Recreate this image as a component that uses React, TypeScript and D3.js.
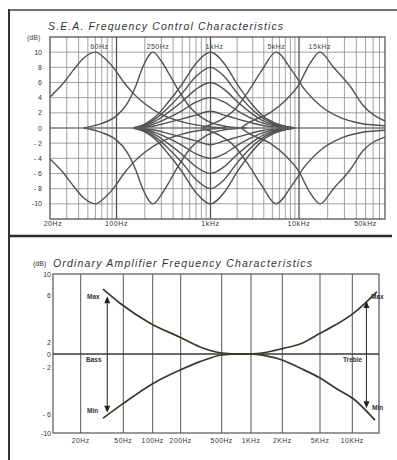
import React from "react";
import * as d3 from "d3";

type Pt = [number, number];

// ---------- TOP CHART DATA (Hz, dB) ----------
const topDbTicks = [10, 8, 6, 4, 2, 0, -2, -4, -6, -8, -10];
const topFreqTicks = [20, 100, 1000, 10000, 50000];
const topFreqLabels = ["20Hz", "100Hz", "1kHz", "10kHz", "50kHz"];
const peakFreqs = [60, 250, 1000, 5000, 15000];
const peakLabels = ["60Hz", "250Hz", "1kHz", "5kHz", "15kHz"];

const eq60Boost: Pt[] = [[20, 4.1], [28, 6], [36, 7.8], [45, 9.2], [60, 10], [75, 9.2], [95, 7.8], [120, 6], [150, 4.6], [200, 3.2], [300, 1.8], [500, 0.8], [900, 0.2], [1500, 0]];
const eq60Cut: Pt[] = [[20, -4.1], [28, -6], [36, -7.8], [45, -9.2], [60, -10], [75, -9.2], [95, -7.8], [120, -6], [150, -4.6], [200, -3.2], [300, -1.8], [500, -0.8], [900, -0.2], [1500, 0]];
const eq250Boost: Pt[] = [[45, 0], [70, 0.6], [100, 1.6], [130, 3.2], [160, 5.5], [190, 8], [245, 10], [300, 8.8], [360, 7.2], [440, 5.3], [600, 2.8], [900, 1], [1500, 0.2], [2500, 0]];
const eq250Cut: Pt[] = [[45, 0], [70, -0.6], [100, -1.6], [130, -3.2], [160, -5.5], [190, -8], [245, -10], [300, -8.8], [360, -7.2], [440, -5.3], [600, -2.8], [900, -1], [1500, -0.2], [2500, 0]];

// 1 kHz family, read at these frequencies
const eq1kFreqs = [150, 200, 260, 350, 500, 700, 1000, 1430, 2000, 2860, 4000, 5800, 9000];
const eq1kBoost10 = [0, 0.5, 1.5, 3.3, 5.8, 8.5, 10, 8.5, 5.8, 3.3, 1.5, 0.5, 0];
const eq1kBoost8 = [0, 0.4, 1.2, 2.6, 4.6, 6.8, 8, 6.8, 4.6, 2.6, 1.2, 0.4, 0];
const eq1kBoost6 = [0, 0.3, 0.9, 2, 3.5, 5.1, 6, 5.1, 3.5, 2, 0.9, 0.3, 0];
const eq1kBoost4 = [0, 0.2, 0.6, 1.3, 2.3, 3.4, 4, 3.4, 2.3, 1.3, 0.6, 0.2, 0];
const eq1kBoost2 = [0, 0.1, 0.3, 0.7, 1.2, 1.7, 2.2, 1.7, 1.2, 0.7, 0.3, 0.1, 0];
const eq1kCut10 = [0, -0.5, -1.5, -3.3, -5.8, -8.5, -10, -8.5, -5.8, -3.3, -1.5, -0.5, 0];
const eq1kCut8 = [0, -0.4, -1.2, -2.6, -4.6, -6.8, -8, -6.8, -4.6, -2.6, -1.2, -0.4, 0];
const eq1kCut6 = [0, -0.3, -0.9, -2, -3.5, -5.1, -6, -5.1, -3.5, -2, -0.9, -0.3, 0];
const eq1kCut4 = [0, -0.2, -0.6, -1.3, -2.3, -3.4, -4, -3.4, -2.3, -1.3, -0.6, -0.2, 0];
const eq1kCut2 = [0, -0.1, -0.3, -0.7, -1.2, -1.7, -2.2, -1.7, -1.2, -0.7, -0.3, -0.1, 0];

const eq5kBoost: Pt[] = [[800, 0], [1280, 1], [1870, 2.4], [2600, 4.6], [3800, 7.6], [5500, 10], [8300, 7.6], [11600, 5], [17300, 2.8], [25800, 1.5], [45000, 0.6], [80000, 0.3]];
const eq5kCut: Pt[] = [[800, 0], [1280, -1], [1870, -2.4], [2600, -4.6], [3800, -7.6], [5500, -10], [8300, -7.6], [11600, -5], [17300, -2.8], [25800, -1.5], [45000, -0.6], [80000, -0.3]];
const eq15kBoost: Pt[] = [[2200, 0], [2800, 0.8], [4700, 2], [7100, 3.7], [9800, 5.6], [13000, 8.5], [16600, 10], [23000, 8], [34000, 5.6], [47000, 3], [80000, 0.9]];
const eq15kCut: Pt[] = [[2200, 0], [2800, -0.8], [4700, -2], [7100, -3.7], [9800, -5.6], [13000, -8.5], [16600, -10], [23000, -8], [34000, -5.6], [47000, -3], [80000, -1.2]];

const eq1kSeries = [eq1kBoost10, eq1kBoost8, eq1kBoost6, eq1kBoost4, eq1kBoost2, eq1kCut10, eq1kCut8, eq1kCut6, eq1kCut4, eq1kCut2];
const topCurves: Pt[][] = [
  eq60Boost, eq60Cut, eq250Boost, eq250Cut,
  ...eq1kSeries.map((s) => s.map((v, i) => [eq1kFreqs[i], v] as Pt)),
  eq5kBoost, eq5kCut, eq15kBoost, eq15kCut,
];

// ---------- BOTTOM CHART DATA (Hz, dB) ----------
const botDbTicks = [10, 6, 2, 0, -2, -6, -10];
const botFreqTicks = [20, 50, 100, 200, 500, 1000, 2000, 5000, 10000];
const botFreqLabels = ["20Hz", "50Hz", "100Hz", "200Hz", "500Hz", "1KHz", "2KHz", "5KHz", "10KHz"];

const bassMax: Pt[] = [[32.3, 7.1], [46.6, 5.3], [94, 3.6], [197, 2.4], [308, 1.17], [505, 0.17], [771, 0], [1000, 0]];
const bassMin: Pt[] = [[32.3, -6.9], [50, -5.1], [101, -3.4], [197, -2.26], [308, -1.18], [505, -0.15], [771, 0], [1000, 0]];
const trebleMax: Pt[] = [[800, 0], [1000, 0], [1363, 0.25], [2060, 0.95], [3076, 1.67], [5000, 2.74], [7200, 3.53], [10230, 4.44], [17000, 6.6]];
const trebleMin: Pt[] = [[800, 0], [1000, 0], [1363, -0.26], [2060, -1], [3076, -2.09], [5000, -2.94], [7200, -3.87], [10230, -4.7], [16300, -7.3]];
const bassArrow: Pt[] = [[35.4, 5.9], [35.4, -5.9]];
const trebleArrow: Pt[] = [[13580, 5.5], [13580, -5.5]];

const FONT = "'Liberation Sans', Arial, sans-serif";

export default function App() {
  const xT = d3.scaleLog().domain([20, 100, 1000, 10000, 80000]).range([50, 116.5, 210.5, 299, 385]);
  const yT = d3.scaleLinear().domain([-12, 12]).range([219, 37]);
  const lineT = d3.line<Pt>().x((d) => xT(d[0])).y((d) => yT(d[1])).curve(d3.curveMonotoneX);

  const topGridF: number[] = [];
  [10, 100, 1000, 10000].forEach((dec) => {
    for (let m = 1; m <= 9; m++) {
      const f = m * dec;
      if (f > 20 && f < 80000) topGridF.push(f);
    }
  });
  const topMajor = new Set([100, 1000, 10000]);
  const topGridDb = d3.range(-10, 11, 2);

  const xB = d3.scaleLog()
    .domain([11, 20, 50, 100, 200, 500, 1000, 2000, 5000, 10000, 17800])
    .range([53, 80.7, 123.3, 152.7, 180.7, 221.7, 251, 282.3, 320, 352.3, 379]);
  const yB = d3.scaleLinear().domain([-10, -6, -2, 0, 2, 6, 10]).range([433, 414, 367, 354, 342, 295, 274]);
  const lineB = d3.line<Pt>().x((d) => xB(d[0])).y((d) => yB(d[1])).curve(d3.curveMonotoneX);

  const fmtDb = (d: number) => (d < 0 ? (d <= -10 ? `-${-d}` : `- ${-d}`) : `${d}`);
  const arrowHead = (x: number, y: number, dir: number) =>
    `M${x},${y} L${x - 3},${y - dir * 7} L${x + 3},${y - dir * 7} Z`;

  const curveColor = "#525252";
  const botCurve = "#3a3a2a";

  return (
    <svg width={397} height={460} style={{ display: "block", position: "absolute", left: 0, top: 0 }}>
      <rect x={0} y={0} width={397} height={460} fill="#ffffff" />
      <line x1={8} y1={10} x2={397} y2={10} stroke="#444" strokeWidth={1.6} />
      <line x1={9} y1={9} x2={9} y2={460} stroke="#333" strokeWidth={2} />
      <line x1={9} y1={236} x2={392} y2={236} stroke="#2a2a2a" strokeWidth={2.5} />

      {/* ===== TOP CHART ===== */}
      <text x={48} y={30} fontFamily={FONT} fontStyle="italic" fontSize={10.5} fill="#333" textLength={235} lengthAdjust="spacing">
        S.E.A. Frequency Control Characteristics
      </text>
      <text x={27} y={40} fontFamily={FONT} fontSize={7} fill="#444">(dB)</text>

      {topGridDb.map((d) => (
        <line key={"hg" + d} x1={50} x2={385} y1={yT(d)} y2={yT(d)} stroke="#8a8a8a" strokeWidth={0.8} />
      ))}
      {topGridF.map((f) => (
        <line key={"vg" + f} x1={xT(f)} x2={xT(f)} y1={37} y2={219}
          stroke={topMajor.has(f) ? "#555" : "#8a8a8a"} strokeWidth={topMajor.has(f) ? 1.3 : 0.8} />
      ))}
      <rect x={50} y={37} width={335} height={182} fill="none" stroke="#555" strokeWidth={1.3} />

      {topDbTicks.map((d) => (
        <text key={"ty" + d} x={42} y={yT(d) + 2.5} textAnchor="end" fontFamily={FONT} fontSize={7} fill="#333">
          {fmtDb(d)}
        </text>
      ))}
      {topFreqTicks.map((f, i) => (
        <text key={"tx" + f} x={xT(f) + (i === 0 ? 3 : 0)} y={226} textAnchor="middle" fontFamily={FONT} fontSize={7} fill="#333" letterSpacing={0.6}>
          {topFreqLabels[i]}
        </text>
      ))}
      {peakFreqs.map((f, i) => (
        <text key={"pk" + f} x={xT(f) + 4} y={49} textAnchor="middle" fontFamily={FONT} fontSize={7} fill="#444" letterSpacing={0.5}>
          {peakLabels[i]}
        </text>
      ))}

      {topCurves.map((c, i) => (
        <path key={"tc" + i} d={lineT(c) || ""} fill="none" stroke={curveColor} strokeWidth={1.4} />
      ))}
      <line x1={50} x2={385} y1={yT(0)} y2={yT(0)} stroke="#666" strokeWidth={1.2} />

      {/* ===== BOTTOM CHART ===== */}
      <text x={33} y={266} fontFamily={FONT} fontSize={7} fill="#333">(dB)</text>
      <text x={53} y={267} fontFamily={FONT} fontStyle="italic" fontSize={10.5} fill="#333" textLength={259} lengthAdjust="spacing">
        Ordinary Amplifier Frequency Characteristics
      </text>

      {botFreqTicks.map((f) => (
        <line key={"bv" + f} x1={xB(f)} x2={xB(f)} y1={274} y2={433} stroke="#555" strokeWidth={1} />
      ))}
      <rect x={53} y={274} width={326} height={159} fill="none" stroke="#555" strokeWidth={1.2} />
      <line x1={53} x2={379} y1={yB(0)} y2={yB(0)} stroke="#3a3a3a" strokeWidth={1.4} />

      {botDbTicks.map((d) => (
        <text key={"by" + d} x={51} y={yB(d) + 2.5} textAnchor="end" fontFamily={FONT} fontSize={7} fill="#333">
          {fmtDb(d)}
        </text>
      ))}
      {botFreqTicks.map((f, i) => (
        <text key={"bx" + f} x={xB(f)} y={443} textAnchor="middle" fontFamily={FONT} fontSize={6.8} fill="#333" letterSpacing={0.5}>
          {botFreqLabels[i]}
        </text>
      ))}

      {[bassMax, bassMin, trebleMax, trebleMin].map((c, i) => (
        <path key={"bc" + i} d={lineB(c) || ""} fill="none" stroke={botCurve} strokeWidth={1.7} />
      ))}

      {[bassArrow, trebleArrow].map((a, i) => {
        const x = xB(a[0][0]);
        const yTop = yB(a[0][1]);
        const yBot = yB(a[1][1]);
        return (
          <g key={"ar" + i}>
            <line x1={x} x2={x} y1={yTop + 5} y2={yBot - 5} stroke="#333" strokeWidth={1.1} />
            <path d={arrowHead(x, yTop, -1)} fill="#222" />
            <path d={arrowHead(x, yBot, 1)} fill="#222" />
          </g>
        );
      })}

      <text x={87} y={299} fontFamily={FONT} fontSize={6.5} fontWeight="bold" fill="#333">Max</text>
      <text x={87} y={413} fontFamily={FONT} fontSize={6.5} fontWeight="bold" fill="#333">Min</text>
      <text x={86} y={362} fontFamily={FONT} fontSize={6.5} fontWeight="bold" fill="#333">Bass</text>
      <text x={343} y={362} fontFamily={FONT} fontSize={6.5} fontWeight="bold" fill="#333">Treble</text>
      <text x={371} y={299} fontFamily={FONT} fontSize={6.5} fontWeight="bold" fill="#333">Max</text>
      <text x={372} y={410} fontFamily={FONT} fontSize={6.5} fontWeight="bold" fill="#333">Min</text>
    </svg>
  );
}
